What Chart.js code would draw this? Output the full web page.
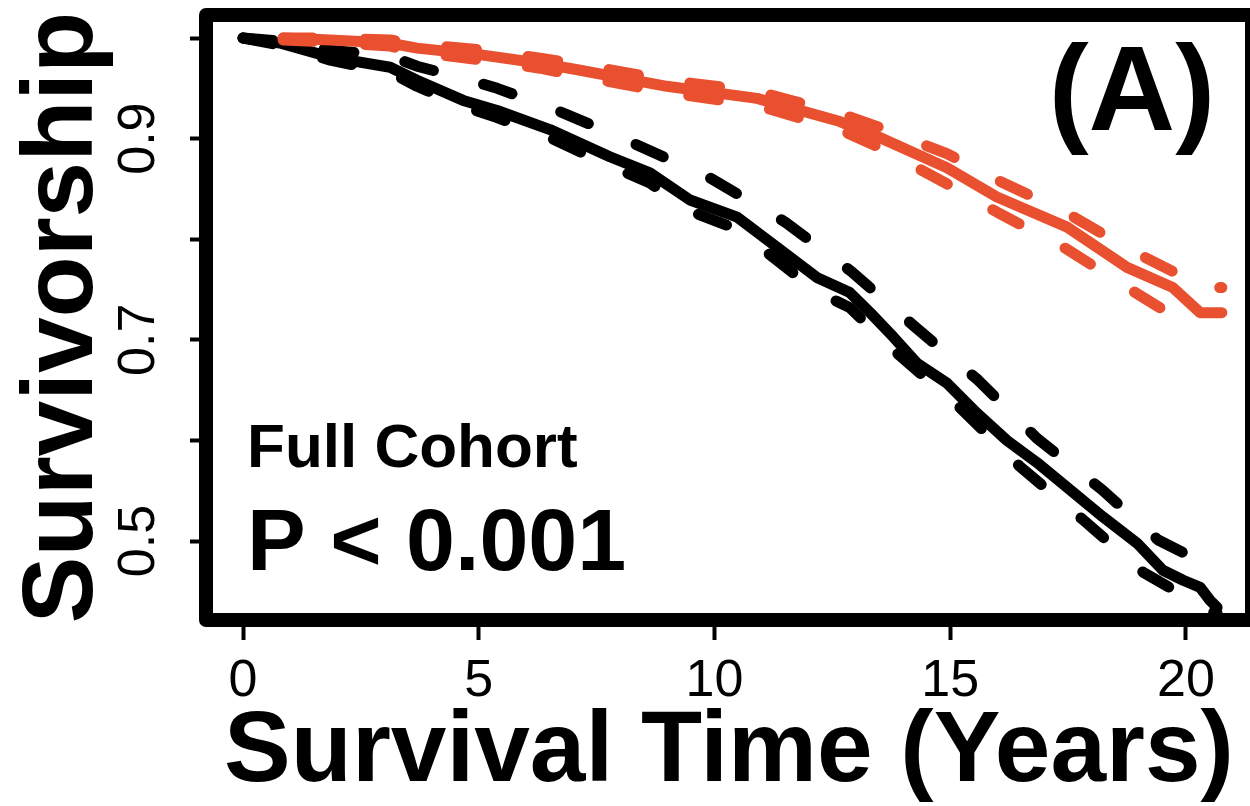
<!DOCTYPE html>
<html>
<head>
<meta charset="utf-8">
<script src="https://cdn.jsdelivr.net/npm/chart.js@4.4.0/dist/chart.umd.min.js"></script>
<style>
  html, body { margin: 0; padding: 0; background: #fff; overflow: hidden; }
  #wrap { width: 1256px; height: 806px; }
</style>
</head>
<body>
<div id="wrap"><canvas id="survChart" width="1256" height="806"></canvas></div>
<script>
// Kaplan-Meier curves, full cohort
const blackTimes = [0, 0.78, 1.85, 3.12, 3.69, 4.67, 5.39, 6.51, 7.78, 8.63, 9.48, 10.48, 11.33, 12.17, 12.87,
    13.30, 13.79, 14.29, 14.93, 15.57, 16.20, 16.84, 17.54, 18.24, 18.96, 19.51, 19.94, 20.30, 20.51, 20.66];
const blackSurv = [1.000, 0.995, 0.981, 0.971, 0.958, 0.938, 0.928, 0.909, 0.882, 0.866, 0.839, 0.822, 0.792, 0.762, 0.747,
    0.727, 0.703, 0.677, 0.657, 0.627, 0.600, 0.578, 0.551, 0.524, 0.498, 0.471, 0.461, 0.454, 0.441, 0.434];

const blackUpperTimes = [0, 0.78, 1.85, 3.12, 3.69, 4.67, 5.39, 6.51, 7.78, 8.2, 9.9, 11.5, 12.9, 14.25, 15.59, 16.84, 18.22, 19.41, 20.30, 20.66];
const blackUpper = [1.000, 0.997, 0.988, 0.982, 0.972, 0.960, 0.950, 0.931, 0.906, 0.897, 0.861, 0.817, 0.768, 0.713, 0.660, 0.602, 0.551, 0.501, 0.480, 0.478];

const blackLowerTimes = [0, 0.78, 1.85, 3.12, 3.69, 4.67, 5.39, 6.51, 7.78, 8.63, 9.48, 10.48, 11.33, 12.17, 12.87, 13.79, 15.20, 16.48, 17.82, 19.09, 19.94, 20.30, 20.66];
const blackLower = [1.000, 0.993, 0.978, 0.966, 0.952, 0.932, 0.921, 0.901, 0.873, 0.856, 0.828, 0.810, 0.779, 0.748, 0.732, 0.690, 0.633, 0.574, 0.521, 0.469, 0.446, 0.434, 0.428];

const redTimes = [0.85, 1.85, 3.12, 3.69, 5.09, 6.30, 7.15, 8.99, 10.90, 12.66, 13.51, 14.93, 15.99, 17.48, 18.75, 19.72, 20.30, 20.76];
const redSurv = [1.000, 0.998, 0.995, 0.990, 0.983, 0.975, 0.968, 0.952, 0.940, 0.917, 0.901, 0.871, 0.842, 0.812, 0.772, 0.752, 0.727, 0.727];
const redUpper = [1.000, 1.000, 0.998, 0.994, 0.988, 0.980, 0.974, 0.958, 0.947, 0.925, 0.911, 0.885, 0.859, 0.826, 0.791, 0.768, 0.752, 0.752];
const redLower = [0.998, 0.996, 0.992, 0.986, 0.978, 0.970, 0.962, 0.946, 0.933, 0.909, 0.891, 0.855, 0.827, 0.790, 0.752, 0.724, 0.705, null];

const yTickLabels = ['0.5', '0.7', '0.9'];
const xRange = [-0.785, 21.40];
const yRange = [0.4215, 1.0229];

const RED = '#E9502F';
const FONT = '"Liberation Sans", Arial, Helvetica, sans-serif';
const TICK_FONT = '"Liberation Sans Narrow", "Liberation Sans", Arial, sans-serif';

function toPoints(xs, ys) {
    return xs.map((t, i) => ({ x: t, y: ys[i] }));
}

function curve(xs, ys, color, dashed) {
    return {
        data: toPoints(xs, ys),
        borderColor: color,
        borderWidth: 11,
        borderDash: dashed ? [30, 52] : [],
        borderCapStyle: 'round',
        borderJoinStyle: 'round',
        pointRadius: 0,
        tension: 0,
        fill: false,
        spanGaps: false
    };
}

// frame box and the text notes inside the panel
const framePlugin = {
    id: 'frameAndNotes',
    afterDatasetsDraw(chart) {
        const { ctx, chartArea: a, scales: { x, y } } = chart;
        ctx.save();
        ctx.strokeStyle = '#000';
        ctx.lineWidth = 14;
        ctx.lineJoin = 'round';
        ctx.strokeRect(a.left, a.top, a.right - a.left, a.bottom - a.top);

        ctx.fillStyle = '#000';
        ctx.textBaseline = 'alphabetic';
        ctx.textAlign = 'left';
        ctx.font = 'bold 62px ' + FONT;
        ctx.fillText('Full Cohort', x.getPixelForValue(0.085), y.getPixelForValue(0.5736));
        ctx.font = 'bold 88px ' + FONT;
        ctx.fillText('P < 0.001', x.getPixelForValue(0.085), y.getPixelForValue(0.4712));
        ctx.textAlign = 'right';
        ctx.font = 'bold 120px ' + FONT;
        ctx.fillText('(A)', x.getPixelForValue(20.62), y.getPixelForValue(0.9085));
        ctx.restore();
    }
};

const ctx = document.getElementById('survChart').getContext('2d');
const survChart = new Chart(ctx, {
    type: 'line',
    data: {
        datasets: [
            curve(redTimes, redSurv, RED, false),
            curve(redTimes, redUpper, RED, true),
            curve(redTimes, redLower, RED, true),
            curve(blackTimes, blackSurv, '#000', false),
            curve(blackUpperTimes, blackUpper, '#000', true),
            curve(blackLowerTimes, blackLower, '#000', true)
        ]
    },
    options: {
        responsive: false,
        animation: false,
        devicePixelRatio: 1,
        layout: { padding: { top: 15, right: 4, left: 0, bottom: 0 } },
        plugins: {
            legend: { display: false },
            tooltip: { enabled: false }
        },
        scales: {
            x: {
                type: 'linear',
                min: xRange[0],
                max: xRange[1],
                border: { display: false },
                grid: {
                    drawOnChartArea: false,
                    drawTicks: true,
                    tickLength: 20,
                    tickWidth: 4,
                    tickColor: '#000'
                },
                ticks: {
                    stepSize: 5,
                    includeBounds: false,
                    autoSkip: false,
                    maxRotation: 0,
                    color: '#000',
                    padding: 10,
                    font: { family: TICK_FONT, size: 52 }
                },
                title: {
                    display: true,
                    text: 'Survival Time (Years)',
                    color: '#000',
                    font: { family: FONT, size: 100, weight: 'bold', lineHeight: 1 },
                    padding: { top: 0, bottom: 3 }
                },
                afterFit: function (scale) {
                    scale.height = 186;
                    scale.paddingLeft = 0;
                    scale.paddingRight = 0;
                }
            },
            y: {
                type: 'linear',
                min: yRange[0],
                max: yRange[1],
                border: { display: false },
                grid: {
                    drawOnChartArea: false,
                    drawTicks: true,
                    tickLength: 16,
                    tickWidth: 4,
                    tickColor: '#000'
                },
                ticks: {
                    stepSize: 0.1,
                    includeBounds: false,
                    autoSkip: false,
                    minRotation: 90,
                    maxRotation: 90,
                    crossAlign: 'center',
                    color: '#000',
                    padding: 14,
                    font: { family: TICK_FONT, size: 52 },
                    callback: function (value) {
                        const s = (Math.round(value * 10) / 10).toFixed(1);
                        return yTickLabels.includes(s) ? s : '';
                    }
                },
                title: {
                    display: true,
                    text: 'Survivorship',
                    color: '#000',
                    font: { family: FONT, size: 100, weight: 'bold', lineHeight: 1 },
                    padding: { top: 14, bottom: 0 }
                },
                afterFit: function (scale) {
                    scale.width = 206;
                    scale.paddingTop = 0;
                    scale.paddingBottom = 0;
                }
            }
        }
    },
    plugins: [framePlugin]
});
</script>
</body>
</html>
